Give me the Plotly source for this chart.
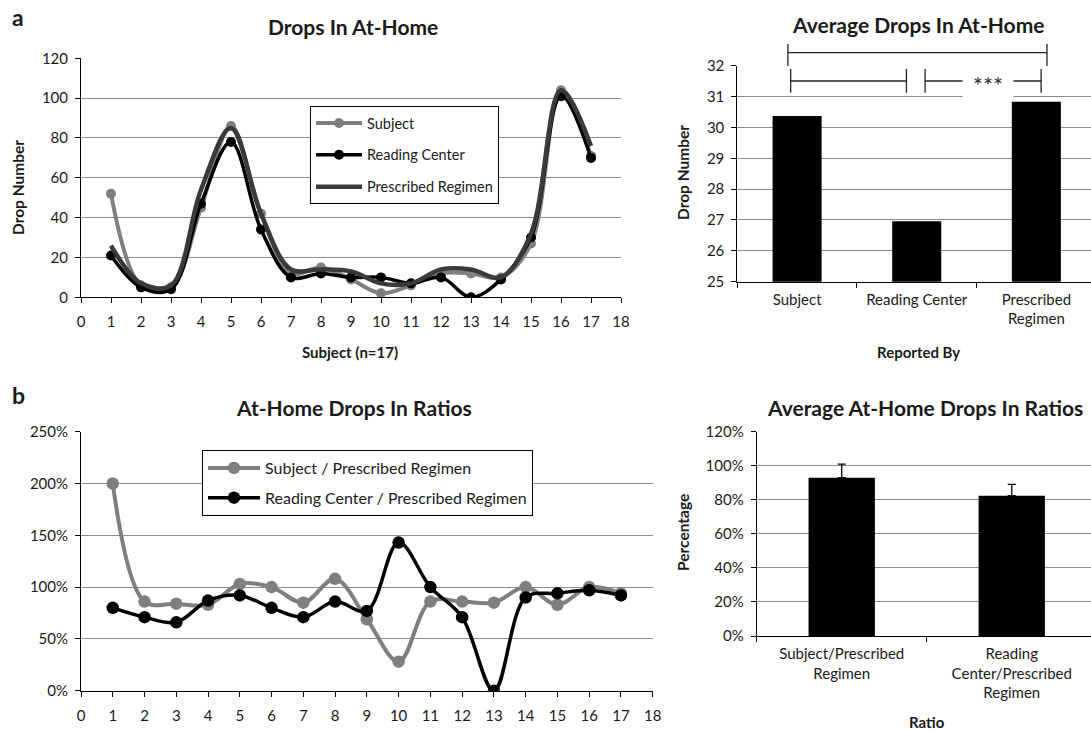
import plotly.graph_objects as go

W, H = 1091, 732
FONT = "Lato"
TXT = "#1a1a1a"
GRID = "#8c8c8c"

# ---------------- data ----------------
subjects = list(range(1, 18))
drops_subject = [52, 6, 5, 45, 86, 42, 12, 15, 9, 2, 6, 12, 12, 10, 27, 104, 71]
drops_reading = [21, 5, 4, 47, 78, 34, 10, 12, 10, 10, 7, 10, 0, 9, 30, 101, 70]
drops_prescribed = [26, 7, 6, 54, 85, 42, 14, 14, 13, 7, 7, 14, 14, 10, 32, 104, 76]

avg_categories = ["Subject", "Reading Center", "Prescribed<br>Regimen"]
avg_values = [30.37, 26.96, 30.83]

ratio_subject = [200, 86, 84, 83, 103, 100, 85, 108, 69, 28, 86, 86, 85, 100, 83, 100, 94]
ratio_reading = [80, 71, 66, 87, 92, 80, 71, 86, 77, 143, 100, 71, 0, 90, 94, 97, 92]

ratio_categories = ["Subject/Prescribed<br>Regimen", "Reading<br>Center/Prescribed<br>Regimen"]
ratio_means = [93.0, 82.4]
ratio_err = [7.9, 6.7]

x_ticks = list(range(0, 19))


def px(x):
    return x / W


def py(y):
    return 1 - y / H


fig = go.Figure()

# ---------- panel a (left): line chart ----------
fig.add_trace(go.Scatter(
    x=subjects, y=drops_subject, name="Subject", mode="lines+markers",
    line=dict(color="#7f7f7f", width=4, shape="spline"),
    marker=dict(color="#7f7f7f", size=10),
    xaxis="x", yaxis="y", legend="legend", legendgroup="s"))
fig.add_trace(go.Scatter(
    x=subjects, y=drops_reading, name="Reading Center", mode="lines+markers",
    line=dict(color="#000000", width=3.5, shape="spline"),
    marker=dict(color="#000000", size=10),
    xaxis="x", yaxis="y", legend="legend", legendgroup="r"))
fig.add_trace(go.Scatter(
    x=subjects, y=drops_prescribed, name="Prescribed Regimen", mode="lines",
    line=dict(color="#3a3a3a", width=4.5, shape="spline"),
    xaxis="x", yaxis="y", legend="legend", legendgroup="p"))

# ---------- panel a (right): bar chart ----------
fig.add_trace(go.Bar(
    x=avg_categories, y=avg_values, marker=dict(color="#000000", line=dict(width=0)),
    width=0.41, showlegend=False, xaxis="x2", yaxis="y2"))

# ---------- panel b (left): ratios ----------
fig.add_trace(go.Scatter(
    x=subjects, y=ratio_subject, name="Subject / Prescribed Regimen", mode="lines+markers",
    line=dict(color="#7f7f7f", width=4, shape="spline"),
    marker=dict(color="#7f7f7f", size=12.5),
    xaxis="x3", yaxis="y3", legend="legend2", legendgroup="rs"))
fig.add_trace(go.Scatter(
    x=subjects, y=ratio_reading, name="Reading Center / Prescribed Regimen", mode="lines+markers",
    line=dict(color="#000000", width=3.5, shape="spline"),
    marker=dict(color="#000000", size=12.5),
    xaxis="x3", yaxis="y3", legend="legend2", legendgroup="rr"))

# ---------- panel b (right): ratio bars ----------
fig.add_trace(go.Bar(
    x=ratio_categories, y=ratio_means, marker=dict(color="#000000", line=dict(width=0)),
    width=0.39, showlegend=False, xaxis="x4", yaxis="y4",
    error_y=dict(type="data", symmetric=False, array=ratio_err, arrayminus=[0, 0],
                 color="#000000", thickness=1.3, width=4)))

tickfont = dict(family=FONT, size=15, color=TXT)

common_x = dict(showline=True, linecolor="#000000", linewidth=1, ticks="outside",
                ticklen=5, tickcolor="#000000", showgrid=False, zeroline=False,
                tickfont=tickfont, automargin=False)
common_y = dict(showline=True, linecolor="#000000", linewidth=1, ticks="outside",
                ticklen=5, tickcolor="#000000", showgrid=True, gridcolor=GRID,
                gridwidth=1, zeroline=False, tickfont=tickfont, automargin=False)

fig.update_layout(
    width=W, height=H,
    margin=dict(l=0, r=0, t=0, b=0, pad=0),
    paper_bgcolor="white", plot_bgcolor="white",
    font=dict(family=FONT, color=TXT),
    xaxis=dict(domain=[px(81), px(621)], range=[0, 18], tickvals=x_ticks,
               anchor="y", ticklabelstandoff=6, **common_x),
    yaxis=dict(domain=[py(297.3), py(58.3)], range=[0, 120], dtick=20,
               anchor="x", ticklabelstandoff=4, **common_y),
    xaxis2=dict(domain=[px(737.3), px(1091)], range=[-0.5, 2.457], type="category",
                tickson="boundaries", anchor="y2", ticklabelstandoff=4, **common_x),
    yaxis2=dict(domain=[py(281.7), py(65.7)], range=[25, 32], dtick=1,
                anchor="x2", ticklabelstandoff=4, **common_y),
    xaxis3=dict(domain=[px(81), px(652.7)], range=[0, 18], tickvals=x_ticks,
                anchor="y3", ticklabelstandoff=6, **common_x),
    yaxis3=dict(domain=[py(690.7), py(431.7)], range=[0, 250], dtick=50, ticksuffix="%",
                anchor="x3", ticklabelstandoff=4, **common_y),
    xaxis4=dict(domain=[px(756.7), px(1091)], range=[-0.5, 1.466], type="category",
                tickson="boundaries", anchor="y4", ticklabelstandoff=4, **common_x),
    yaxis4=dict(domain=[py(636), py(431.7)], range=[0, 120], dtick=20, ticksuffix="%",
                anchor="x4", ticklabelstandoff=4, **common_y),
    legend=dict(x=px(310), y=py(106), xanchor="left", yanchor="top",
                bordercolor="#000000", borderwidth=1, bgcolor="white",
                font=dict(family=FONT, size=14.5, color=TXT), tracegroupgap=10,
                itemwidth=46),
    legend2=dict(x=px(202), y=py(450), xanchor="left", yanchor="top",
                 bordercolor="#000000", borderwidth=1, bgcolor="white",
                 font=dict(family=FONT, size=16, color=TXT), tracegroupgap=6,
                 itemwidth=52),
    bargap=0.5,
)

ann = []


def text(x, y, s, size, bold=True, angle=0):
    ann.append(dict(x=px(x), y=py(y), xref="paper", yref="paper", text=f"<b>{s}</b>" if bold else s,
                    showarrow=False, xanchor="center", yanchor="middle", textangle=angle,
                    font=dict(family=FONT, size=size, color=TXT)))


text(18, 17, "a", 23)
text(18, 395, "b", 23)
text(353, 27, "Drops In At-Home", 21)
text(918, 25, "Average Drops In At-Home", 21)
text(353.5, 408, "At-Home Drops In Ratios", 21)
text(925, 408, "Average At-Home Drops In Ratios", 21)
text(18, 188, "Drop Number", 15.5, angle=-90)
text(683, 173, "Drop Number", 15.5, angle=-90)
text(350, 352, "Subject (n=17)", 15)
text(918, 352, "Reported By", 15)
text(683, 533, "Percentage", 15.5, angle=-90)
text(927, 722, "Ratio", 15)

# significance brackets on the top-right panel (category units -> domain fraction)
x2_range = (-0.5, 2.457)


def dfrac(c):
    return (c - x2_range[0]) / (x2_range[1] - x2_range[0])


bracket_style = dict(color="#222222", width=1.3)
shapes = []
brackets = [(-0.077, 2.089, 52.7, 44, 66), (-0.054, 0.914, 81, 69, 92.7), (1.07, 2.04, 81, 69, 92.7)]
for c0, c1, yy, yt, yb in brackets:
    shapes.append(dict(type="line", xref="x2 domain", yref="paper",
                       x0=dfrac(c0), x1=dfrac(c1), y0=py(yy), y1=py(yy), line=bracket_style))
    for c in (c0, c1):
        shapes.append(dict(type="line", xref="x2 domain", yref="paper",
                           x0=dfrac(c), x1=dfrac(c), y0=py(yt), y1=py(yb), line=bracket_style))

ann.append(dict(x=dfrac(1.60), y=py(82), xref="x2 domain", yref="paper", text="***",
                showarrow=False, xanchor="center", yanchor="middle", valign="bottom",
                bgcolor="white", width=48, height=33,
                font=dict(family=FONT, size=24, color="#333333")))

fig.update_layout(annotations=ann, shapes=shapes)

fig.write_html(
    "out.html",
    config={"displayModeBar": False},
    post_script="document.body.style.margin='0';document.body.style.padding='0';"
                "document.body.style.overflow='hidden';",
)
